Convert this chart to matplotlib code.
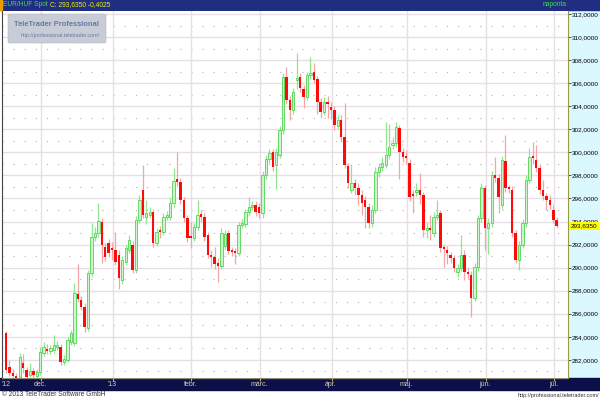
import matplotlib
matplotlib.use("Agg")
import matplotlib.pyplot as plt
import numpy as np
import pandas as pd
from matplotlib.patches import Rectangle, FancyBboxPatch

plt.rcParams['font.family'] = ['Liberation Sans', 'DejaVu Sans']

# EUR/HUF daily candles, 2012-11-19 .. 2013-07-02
dates = pd.bdate_range("2012-11-19", "2013-07-02")

opens = [284.33, 281.38, 280.86, 280.6, 280.52, 281.73, 281.12, 280.69, 281.04, 280.6,
         280.95, 282.6, 282.95, 282.77, 282.86, 283.12, 283.12, 281.82, 281.99, 283.55,
         283.47, 287.72, 287.2, 286.59, 284.77, 289.54, 292.66, 293.0, 293.96, 291.79,
         292.14, 291.71, 291.53, 291.1, 288.93, 290.49, 291.53, 291.97, 289.8, 294.13,
         296.74, 294.4, 294.57, 294.83, 292.14, 293.27, 293.09, 294.39, 294.39, 295.61,
         297.69, 297.43, 295.87, 294.31, 292.66, 292.57, 293.53, 294.65, 294.39, 292.83,
         291.1, 290.92, 290.4, 290.14, 291.88, 293.0, 291.53, 291.45, 291.27, 293.7,
         293.79, 294.83, 295.26, 295.43, 295.26, 294.74, 298.04, 299.42, 300.03, 298.9,
         299.77, 301.94, 306.54, 304.54, 303.67, 306.28, 306.54, 305.5, 304.8, 306.71,
         306.97, 306.36, 304.37, 303.5, 304.37, 303.93, 303.67, 302.29, 302.81, 301.33,
         298.82, 296.74, 297.34, 296.91, 296.3, 295.87, 295.26, 293.87, 295.0, 298.3,
         298.73, 298.9, 299.77, 300.64, 300.81, 302.11, 300.03, 299.6, 299.08, 296.39,
         296.56, 296.74, 296.3, 293.27, 293.35, 293.0, 294.39, 294.74, 291.71, 291.53,
         291.1, 290.84, 289.62, 289.97, 291.1, 289.62, 289.36, 287.37, 290.06, 294.31,
         296.91, 293.44, 293.87, 298.04, 297.78, 295.43, 299.25, 296.91, 296.74, 293.0,
         290.66, 291.97, 293.87, 297.6, 299.6, 299.34, 298.64, 296.74, 296.22, 295.87,
         295.0, 294.13]
highs = [284.5, 282.0, 281.2, 280.9, 282.6, 282.5, 281.4, 281.73, 281.3, 281.2,
         283.1, 283.55, 283.4, 283.3, 284.16, 283.6, 283.4, 282.4, 284.0, 284.6,
         288.67, 290.32, 287.5, 286.9, 289.8, 293.87, 293.5, 295.61, 294.3, 292.1,
         292.5, 292.2, 293.09, 291.5, 291.0, 292.0, 292.8, 292.3, 294.5, 296.3,
         298.9, 295.87, 295.3, 295.1, 293.4, 293.6, 294.7, 294.9, 296.0, 298.64,
         300.0, 297.8, 296.1, 294.6, 294.0, 293.9, 295.87, 295.0, 294.7, 293.1,
         291.5, 291.8, 290.8, 293.4, 293.3, 293.3, 291.8, 291.7, 294.0, 294.2,
         295.1, 296.13, 295.8, 295.8, 295.6, 298.4, 299.8, 300.3, 300.3, 300.4,
         302.3, 306.9, 307.4, 304.9, 305.6, 308.62, 306.9, 305.8, 307.0, 308.27,
         307.75, 306.6, 304.7, 304.8, 304.9, 304.4, 304.0, 303.2, 303.2, 304.3,
         299.1, 299.0, 297.7, 297.3, 296.7, 296.2, 295.6, 295.4, 298.7, 299.1,
         299.6, 302.6, 302.5, 301.3, 302.63, 302.4, 300.4, 300.2, 299.4, 296.7,
         297.34, 298.2, 296.6, 294.0, 294.6, 294.8, 295.87, 295.0, 292.0, 291.9,
         291.4, 291.1, 290.3, 292.83, 291.5, 290.0, 289.7, 290.4, 294.6, 297.3,
         297.2, 294.3, 298.4, 299.6, 298.1, 299.7, 301.5, 297.2, 297.1, 293.3,
         292.3, 294.2, 298.0, 300.38, 300.9, 300.64, 299.0, 297.6, 296.5, 296.3,
         295.43, 294.4]
lows = [280.9, 280.6, 280.3, 280.0, 280.3, 280.9, 280.2, 280.5, 280.4, 280.3,
        280.7, 282.3, 282.5, 282.5, 282.6, 282.9, 281.6, 281.6, 281.8, 283.3,
        283.2, 287.0, 286.3, 284.42, 284.5, 289.2, 292.3, 292.7, 290.4, 290.6,
        290.9, 290.7, 290.2, 288.15, 288.6, 290.2, 291.3, 289.5, 289.5, 293.9,
        294.3, 293.8, 294.3, 291.8, 291.9, 292.6, 292.8, 294.1, 294.1, 295.3,
        297.1, 295.5, 294.0, 292.2, 291.7, 292.3, 293.3, 294.0, 292.3, 290.8,
        290.1, 289.9, 288.76, 289.9, 291.6, 291.2, 291.0, 290.32, 291.0, 293.4,
        293.5, 294.5, 295.0, 294.5, 294.3, 294.3, 297.7, 299.1, 298.4, 296.8,
        299.5, 301.6, 304.2, 302.8, 303.3, 305.5, 305.2, 303.85, 304.5, 306.4,
        306.0, 303.3, 303.0, 303.2, 303.0, 302.9, 301.9, 302.0, 300.9, 298.6,
        296.9, 296.5, 296.3, 295.4, 294.6, 293.44, 293.4, 293.5, 294.7, 297.9,
        298.4, 298.6, 299.4, 300.3, 300.5, 297.7, 299.2, 299.0, 295.8, 294.74,
        296.2, 295.5, 292.7, 292.6, 292.4, 292.7, 294.1, 291.4, 290.06, 290.3,
        290.4, 289.6, 289.2, 289.7, 288.9, 289.0, 285.72, 287.1, 289.7, 294.0,
        291.53, 291.2, 293.5, 297.4, 294.74, 295.1, 296.6, 296.5, 292.7, 290.4,
        289.8, 291.7, 293.5, 297.3, 299.0, 298.3, 296.4, 295.9, 295.0, 295.1,
        293.9, 293.4]
closes = [281.12, 280.86, 280.6, 280.3, 282.25, 281.29, 280.52, 281.04, 280.69, 280.95,
          282.69, 283.12, 282.77, 283.03, 283.29, 283.29, 281.82, 282.08, 283.73, 284.33,
          287.8, 287.28, 286.59, 284.85, 289.54, 292.66, 293.0, 294.05, 291.97, 290.92,
          291.27, 291.53, 290.49, 289.1, 290.66, 291.71, 292.4, 289.8, 294.13, 295.87,
          294.57, 294.7, 294.83, 292.14, 293.09, 293.09, 294.39, 294.57, 295.61, 297.52,
          297.43, 295.87, 294.31, 292.57, 292.57, 293.53, 294.57, 294.39, 292.66, 291.1,
          290.92, 290.32, 290.14, 293.0, 292.92, 291.45, 291.36, 291.27, 293.7, 293.87,
          294.83, 295.26, 295.43, 294.83, 294.74, 298.04, 299.42, 299.94, 298.73, 300.03,
          301.94, 306.54, 304.54, 303.67, 305.24, 306.45, 305.58, 304.8, 306.71, 306.88,
          306.28, 304.37, 303.5, 304.37, 304.19, 303.67, 302.37, 302.81, 301.33, 298.9,
          297.34, 297.34, 296.91, 296.3, 295.61, 295.26, 293.87, 295.0, 298.3, 298.73,
          299.08, 299.77, 300.46, 300.81, 302.2, 300.03, 299.6, 299.51, 296.13, 296.22,
          296.74, 296.3, 293.27, 293.35, 293.27, 294.39, 294.57, 291.71, 291.6, 291.27,
          290.84, 289.97, 289.97, 291.1, 289.62, 289.45, 287.37, 290.06, 294.31, 296.91,
          293.44, 293.87, 298.04, 297.78, 296.13, 299.34, 296.91, 296.85, 293.0, 290.66,
          291.97, 293.87, 297.6, 299.6, 299.51, 298.64, 296.74, 296.22, 295.87, 295.43,
          294.13, 293.635]

month_labels = ["'12", "dec.", "'13", "febr.", "márc.", "ápr.", "máj.", "jún.", "júl."]
price_ticks = list(range(282, 313, 2))
last_price = "293,6350"

o = np.array(opens)
h = np.array(highs)
l = np.array(lows)
c = np.array(closes)
x = np.arange(len(dates))
up = c >= o

W, H = 600, 400
fig = plt.figure(figsize=(6, 4), dpi=100)
fig.patch.set_facecolor("white")

def fx(px):
    return px / W

def fy(py):
    return 1 - py / H

# background panels (drawn below the axes)
fig.patches.append(Rectangle((fx(568), fy(378)), fx(32), (378 - 10) / H,
                             transform=fig.transFigure, color="#dcf8ff", zorder=-2))
fig.patches.append(Rectangle((0, fy(10)), 1, 10 / H, transform=fig.transFigure,
                             color="#1f2e80", zorder=-2))
fig.patches.append(Rectangle((0, fy(10)), fx(2), 10 / H, transform=fig.transFigure,
                             color="#e8a000", zorder=-1))
fig.patches.append(Rectangle((0, fy(390)), 1, 12 / H, transform=fig.transFigure,
                             color="#0d0f48", zorder=-2))

ax = fig.add_axes([fx(2), fy(378), fx(566), (378 - 11) / H])
ax.set_facecolor("white")
ax.set_xlim(-1.17, 164.3)
ax.set_ylim(280.43, 312.26)

# grid
for v in range(281, 313):
    if v % 2 == 0:
        ax.axhline(v, color="#e6dfe6", lw=1.0, zorder=0)
    else:
        ax.axhline(v, color="#b4b4b4", lw=0.8, ls=(0, (1, 9)), zorder=0)

month_pos = []
prev = None
for i, d in enumerate(dates):
    if d.month != prev:
        month_pos.append(i)
        prev = d.month
for p in month_pos[1:]:
    ax.axvline(p + 0.2, color="#e6dfe6", lw=1.0, zorder=0)

# candles
ax.vlines(x[up], l[up], h[up], color="#8ee88e", lw=0.9, zorder=2)
ax.vlines(x[~up], l[~up], h[~up], color="#f4a6a6", lw=0.9, zorder=2)
body = np.maximum(np.abs(c - o), 0.15)
ax.bar(x[up], body[up], bottom=o[up], width=0.68, color="#cff5cf",
       edgecolor="#4fd44f", linewidth=0.6, zorder=3)
ax.bar(x[~up], body[~up], bottom=np.minimum(o, c)[~up], width=0.72,
       color="#ff0a0a", edgecolor="none", zorder=3)

ax.yaxis.tick_right()
ax.set_yticks(price_ticks)
ax.set_yticklabels([f"{v},0000" for v in price_ticks])
ax.tick_params(axis="y", direction="out", length=2, width=0.6, color="#333333",
               labelsize=4.6, pad=1, labelcolor="black")
ax.set_xticks([])
for s in ["top", "bottom"]:
    ax.spines[s].set_visible(False)
ax.spines["left"].set_linestyle((0, (1, 1)))
ax.spines["left"].set_color("#444444")
ax.spines["right"].set_linestyle((0, (1, 1)))
ax.spines["right"].set_color("#9a9a40")

# bottom time bar
axb = fig.add_axes([fx(2), fy(390), fx(566), 12 / H], sharex=ax)
axb.set_facecolor("#0d0f48")
axb.set_ylim(0, 1)
axb.set_yticks([])
axb.set_xticks([])
for s in axb.spines.values():
    s.set_visible(False)
axb.axhline(1, color="#8a8a70", lw=1.0)
for p, lab in zip(month_pos, month_labels):
    axb.text(p, 0.42, lab, color="#d8d0b0", fontsize=5, ha="center", va="center")
    if p > 0:
        axb.vlines(p + 0.2, 0.78, 1.0, color="#c8b060", lw=0.8)

# header texts
fig.text(fx(3), fy(5), "EUR/HUF Spot", color="#3ee03e", fontsize=4.8, va="center")
fig.text(fx(50), fy(5), "C: 293,6350 -0,4025", color="#f4f400", fontsize=4.8, va="center")
fig.text(fx(567), fy(5), "naponta", color="#3ee03e", fontsize=4.8, va="center", ha="right")

# watermark
fig.patches.append(FancyBboxPatch((fx(8), fy(43)), fx(98), 29 / H,
                                  boxstyle="round,pad=0,rounding_size=0.004",
                                  transform=fig.transFigure, facecolor="#c8ccd6",
                                  edgecolor="#a6aab6", lw=0.6, ls=(0, (1, 1)), zorder=5))
fig.text(fx(56), fy(25), "TeleTrader Professional", color="#6878a8", fontsize=5.4,
         fontweight="bold", ha="center", va="center", zorder=6)
fig.text(fx(60), fy(36), "http://professional.teletrader.com/", color="#6878a8",
         fontsize=3.8, ha="center", va="center", zorder=6)

# last price tag
fig.text(fx(584), fy(226), last_price, fontsize=4.6, ha="center", va="center",
         color="black", zorder=7,
         bbox=dict(boxstyle="square,pad=0.25", facecolor="#ffff00", edgecolor="none"))

# footer
fig.text(fx(2), fy(395), "© 2013 TeleTrader Software GmbH", color="#333333",
         fontsize=4.8, va="center")
fig.text(fx(599), fy(395), "http://professional.teletrader.com/", color="#333333",
         fontsize=4, va="center", ha="right")

fig.savefig("out.png", dpi=100)
